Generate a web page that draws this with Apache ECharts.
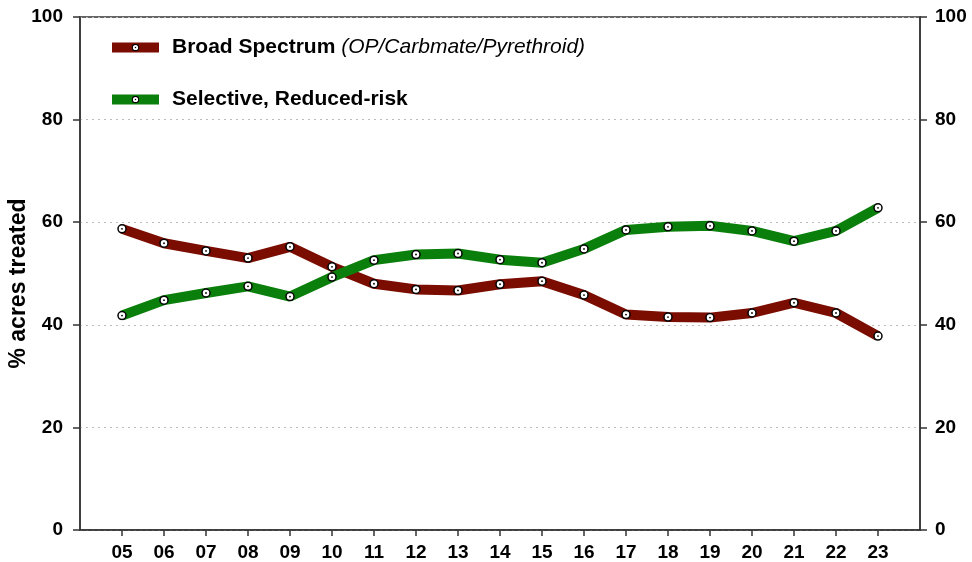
<!DOCTYPE html>
<html>
<head>
<meta charset="utf-8">
<script src="https://cdn.jsdelivr.net/npm/echarts@6/dist/echarts.min.js"></script>
<style>
  html, body { margin: 0; padding: 0; background: #fff; }
  #chart { width: 972px; height: 562px; }
</style>
</head>
<body>
<div id="chart"></div>
<script>
// Season (two-digit year) and share of acres treated, by insecticide class
const years = [5, 6, 7, 8, 9, 10, 11, 12, 13, 14, 15, 16, 17, 18, 19, 20, 21, 22, 23];
const broadSpectrum = [58.7, 55.9, 54.4, 53.0, 55.2, 51.3, 48.0, 46.9, 46.7, 47.9, 48.5, 45.8, 42.0, 41.5, 41.4, 42.3, 44.3, 42.3, 37.8];
const selectiveReduced = [41.8, 44.8, 46.2, 47.5, 45.5, 49.3, 52.6, 53.7, 53.9, 52.7, 52.1, 54.8, 58.5, 59.1, 59.3, 58.3, 56.3, 58.3, 62.8];
const yTicks = [0, 20, 40, 60, 80, 100];

const FONT = 'Liberation Sans, Arial, sans-serif';
const RED = '#7a0c00';
const GREEN = '#0b7f0b';

// White ring marker with a tiny centre dot
const markerSvg = '<svg xmlns="http://www.w3.org/2000/svg" width="20" height="20" viewBox="0 0 20 20">' +
  '<circle cx="10" cy="10" r="8" fill="#fff" stroke="#000" stroke-width="3"/>' +
  '<circle cx="10" cy="10" r="1.8" fill="#000"/></svg>';
const marker = 'image://data:image/svg+xml;charset=utf-8,' + encodeURIComponent(markerSvg);

const pair = vals => years.map((y, i) => [y, vals[i]]);

const labelFont = { color: '#000', fontFamily: FONT, fontWeight: 'bold', fontSize: 19 };

const yAxisCommon = {
  type: 'value', min: 0, max: 100, interval: 20,
  axisLine: { show: true, lineStyle: { color: '#333', width: 1.5 } },
  axisTick: { show: true, length: 7, lineStyle: { color: '#333', width: 1.5 } },
  splitLine: { show: false }
};

const chart = echarts.init(document.getElementById('chart'));
chart.setOption({
  animation: false,
  backgroundColor: '#fff',
  grid: {
    left: 80, right: 52, top: 17, bottom: 32,
    containLabel: false, outerBoundsMode: 'none',
    show: true, borderColor: '#333', borderWidth: 1.5
  },
  legend: {
    orient: 'vertical', left: 102, top: 32, itemGap: 31,
    itemWidth: 47, itemHeight: 10,
    lineStyle: { width: 10 },
    textStyle: {
      fontFamily: FONT, fontSize: 21, fontWeight: 'bold', color: '#000',
      rich: {
        b: { fontFamily: FONT, fontSize: 21, fontWeight: 'bold', color: '#000', padding: [0, 0, 0, 8] },
        i: { fontFamily: FONT, fontSize: 21, fontStyle: 'italic', fontWeight: 'normal', color: '#000' }
      }
    },
    formatter: name => name === 'Broad Spectrum'
      ? '{b|Broad Spectrum} {i|(OP/Carbmate/Pyrethroid)}'
      : '{b|' + name + '}',
    data: ['Broad Spectrum', 'Selective, Reduced-risk']
  },
  xAxis: {
    type: 'value', min: 4, max: 24, interval: 1,
    axisLine: { lineStyle: { color: '#333', width: 1.5 } },
    axisTick: { show: true, length: 6, lineStyle: { color: '#333', width: 1.5 } },
    axisLabel: Object.assign({}, labelFont, {
      margin: 13,
      showMinLabel: false, showMaxLabel: false,
      formatter: v => (v >= 5 && v <= 23) ? String(v).padStart(2, '0') : ''
    }),
    splitLine: { show: false }
  },
  yAxis: [
    Object.assign({}, yAxisCommon, {
      position: 'left',
      axisLabel: Object.assign({}, labelFont, { margin: 17, formatter: v => yTicks.includes(v) ? String(v) : '' }),
      name: '% acres treated', nameLocation: 'middle', nameGap: 50, nameRotate: 90,
      nameMoveOverlap: false,
      nameTextStyle: { color: '#000', fontFamily: FONT, fontWeight: 'bold', fontSize: 23, padding: [0, 20, 0, 0] },
      splitLine: { show: true, lineStyle: { color: '#bbb', type: [2, 4], width: 1 } }
    }),
    Object.assign({}, yAxisCommon, {
      position: 'right',
      axisLabel: Object.assign({}, labelFont, { margin: 15, formatter: v => yTicks.includes(v) ? String(v) : '' })
    })
  ],
  series: [
    {
      name: 'Broad Spectrum', type: 'line', data: pair(broadSpectrum),
      lineStyle: { color: RED, width: 10 }, itemStyle: { color: RED },
      symbol: marker, symbolSize: 10, showAllSymbol: true, z: 3
    },
    {
      name: 'Selective, Reduced-risk', type: 'line', data: pair(selectiveReduced),
      lineStyle: { color: GREEN, width: 10 }, itemStyle: { color: GREEN },
      symbol: marker, symbolSize: 10, showAllSymbol: true, z: 4
    }
  ]
});
</script>
</body>
</html>
